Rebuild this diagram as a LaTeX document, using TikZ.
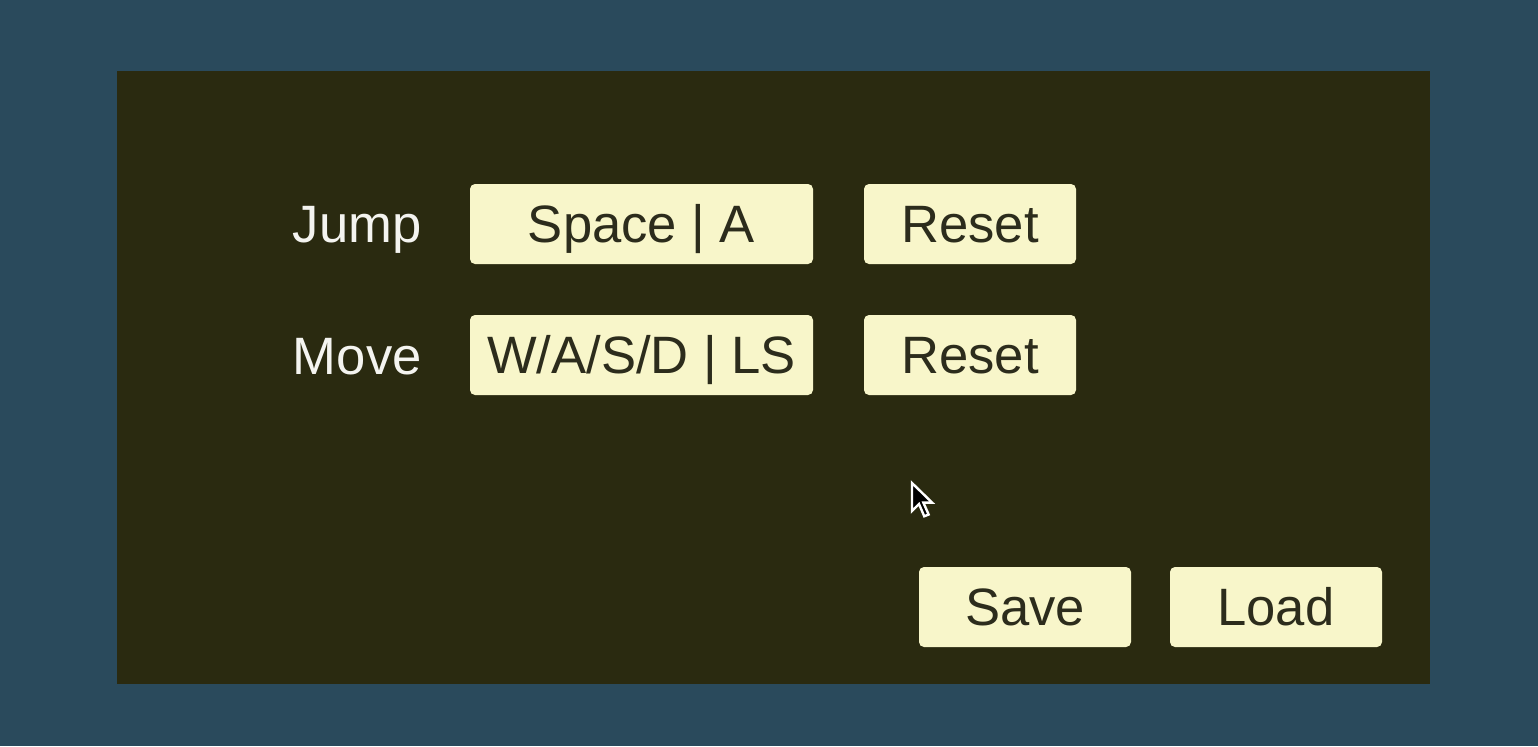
\documentclass[tikz,border=0pt]{standalone}
\usepackage{fontspec}
\setmainfont{Liberation Sans}
\definecolor{bgteal}{HTML}{2A4A5C}
\definecolor{panelc}{HTML}{2A2A10}
\definecolor{btnc}{HTML}{F8F6CA}
\definecolor{btntext}{HTML}{2C2C1C}
\definecolor{labelc}{HTML}{F4F4F0}
\begin{document}
\begin{tikzpicture}[x=0.5pt,y=-0.5pt,
  btn/.style={fill=btnc, draw=none, rounded corners=2.5pt, inner sep=0pt,
    minimum height=40pt, text=btntext, font=\fontsize{26.3pt}{31pt}\selectfont,
    text height=18.8pt, text depth=0pt},
  lbl/.style={anchor=east, inner sep=0pt, text=labelc,
    font=\fontsize{26.3pt}{31pt}\selectfont, text height=18.8pt, text depth=0pt}]
\fill[bgteal] (0,0) rectangle (1538,746);
\useasboundingbox (0,0) rectangle (1538,746);
\fill[panelc] (117,71) rectangle (1430,684);
\node[lbl] (jumpl) at (422,224) {Jump};
\node[lbl] (movel) at (422,356) {Move};
\node[btn, minimum width=171.5pt] (jumpk) at (641.5,224) {Space | A};
\node[btn, minimum width=171.5pt] (movek) at (641.5,355) {W/A/S/D | LS};
\node[btn, minimum width=106pt] (jumpr) at (970,224) {Reset};
\node[btn, minimum width=106pt] (mover) at (970,355) {Reset};
\node[btn, minimum width=106pt] (save) at (1025,607) {Save};
\node[btn, minimum width=106pt] (load) at (1276,607) {Load};
% cursor
\begin{scope}[shift={(912,483)}, scale=1.75]
\filldraw[fill=black, draw=white, line width=1.2pt, line join=miter]
  (0,0) -- (0,16) -- (4,12) -- (7,19) -- (9.5,18) -- (6.5,11.2) -- (11.5,11.2) -- cycle;
\end{scope}
\end{tikzpicture}
\end{document}
